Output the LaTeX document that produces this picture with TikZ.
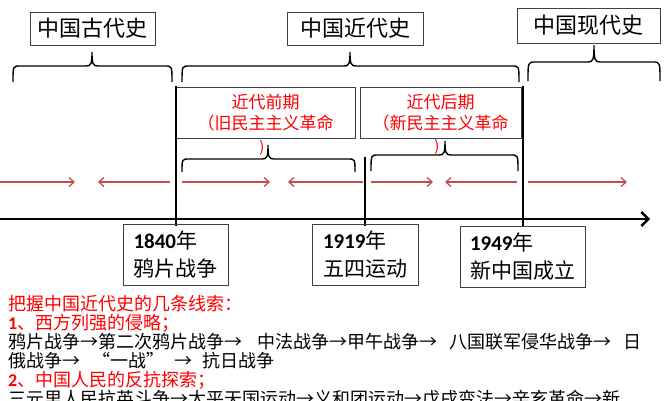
\documentclass[tikz,border=0pt]{standalone}
\usepackage{fontspec}
\setmainfont{Carlito}
\newfontfamily\cjk{Noto Sans CJK SC}
\usetikzlibrary{arrows.meta,positioning}
\definecolor{trendred}{RGB}{192,80,77}
\tikzset{
  erabox/.style={draw=black!75, thick, font=\cjk\fontsize{22}{26}\selectfont,
                 minimum height=33pt, inner sep=0pt},
  phasebox/.style={draw=black!75, thick, text=red, align=center,
                   font=\cjk\fontsize{17}{21}\selectfont, minimum height=51pt, inner sep=0pt},
  datebox/.style={draw=black!75, thick, align=left, inner sep=0pt,
                  font=\cjk\fontsize{21}{28}\selectfont, minimum height=61pt},
  trend/.style={trendred, line width=1.3pt, -{Straight Barb[length=5pt,width=9pt,line width=1.3pt]}},
  timeaxis/.style={line width=2.4pt, -{Straight Barb[length=7pt,width=14pt,line width=2.4pt]}},
  divider/.style={line width=1.2pt},
  bracket/.style={line width=1.4pt},
  noteline/.style={anchor=west, inner sep=0pt, font=\cjk\fontsize{18}{18}\selectfont},
  redparen/.style={text=red, font=\cjk\fontsize{15}{15}\selectfont, inner sep=0pt}
}
% x1, x2, middle, top, ends, tip
\newcommand{\spanbrace}[6]{%
  \draw[bracket] (#1,#5) .. controls (#1,#4) .. (#1+7,#4) -- (#3-6,#4)
    .. controls (#3-1,#4) and (#3,#4-2) .. (#3,#6)
    .. controls (#3,#4-2) and (#3+1,#4) .. (#3+6,#4) -- (#2-7,#4)
    .. controls (#2,#4) .. (#2,#5);}
\newcommand{\yr}[1]{{\rmfamily\bfseries #1}}

\begin{document}
\begin{tikzpicture}[x=1pt,y=-1pt]
  \useasboundingbox (0,0) rectangle (667,400);

  % eras
  \node[erabox, minimum width=125pt] (ancient) at (92.5,28.5) {中国古代史};
  \node[erabox, minimum width=136pt] (modern) at (355,28.5) {中国近代史};
  \node[erabox, minimum width=143pt, minimum height=35pt] (recent) at (588.5,25.5) {中国现代史};
  \spanbrace{13}{172}{92}{66}{82}{52}
  \spanbrace{182}{519}{350}{66}{82}{52}
  \spanbrace{528}{660}{594}{62}{81}{45}

  % phases of the modern era
  \node[phasebox, minimum width=179pt] (early) at (265.5,112.5) {近代前期\\（旧民主主义革命};
  \node[phasebox, minimum width=161pt] (late) at (440.5,112.5) {近代后期\\（新民主主义革命};
  \node[redparen] (earlyend) at (262,148) {)};
  \node[redparen] (lateend) at (437,147) {)};
  \spanbrace{182}{355}{268}{159}{172}{145}
  \spanbrace{371}{518}{445}{155}{171}{141}

  % dividers
  \draw[divider] (176,86) -- (176,226);
  \draw[divider] (365,157) -- (365,226);
  \draw[divider] (523,86) -- (523,226);

  % trends
  \draw[trend] (0,182) -- (75,182);
  \draw[trend] (170,182) -- (98,182);
  \draw[trend] (182,182) -- (270,182);
  \draw[trend] (363,182) -- (288,182);
  \draw[trend] (371,182) -- (433,182);
  \draw[trend] (517,182) -- (445,182);
  \draw[trend] (528,182) -- (627,182);

  % time axis
  \coordinate (axisstart) at (0,219);
  \coordinate (axisend) at (650,219);
  \draw[timeaxis] (axisstart) -- (axisend);

  % dates
  \node[datebox, minimum width=105pt] (d1840) at (175.5,254.5) {\yr{1840}年\\鸦片战争};
  \node[datebox, minimum width=106pt] (d1919) at (365,254.5) {\yr{1919}年\\五四运动};
  \node[datebox, minimum width=125pt] (d1949) at (522.5,256.5) {\yr{1949}年\\新中国成立};

  % clues
  \node[noteline, text=red] (clue0) at (8,304) {把握中国近代史的几条线索：};
  \node[noteline, text=red] (clue1) at (8,323) {\yr{1}、西方列强的侵略；};
  \node[noteline] (clue1a) at (8,342) {鸦片战争→第二次鸦片战争→\hspace{15pt}中法战争→甲午战争→\hspace{12pt}八国联军侵华战争→\hspace{12pt}日};
  \node[noteline] (clue1b) at (8,361) {俄战争→\hspace{12pt}“一战”\hspace{10pt}→\hspace{10pt}抗日战争};
  \node[noteline, text=red] (clue2) at (8,380) {\yr{2}、中国人民的反抗探索；};
  \node[noteline] (clue2a) at (8,399) {三元里人民抗英斗争→太平天国运动→义和团运动→戊戌变法→辛亥革命→新};
\end{tikzpicture}
\end{document}
